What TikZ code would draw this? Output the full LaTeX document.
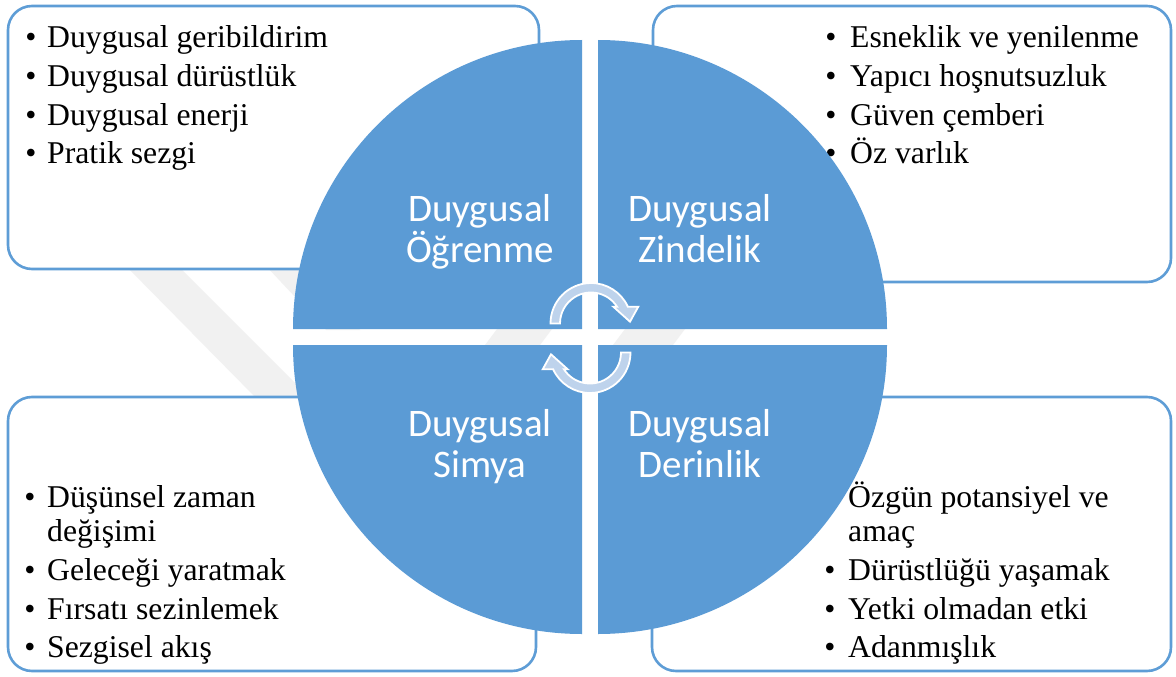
\documentclass[tikz,border=0pt]{standalone}
\usepackage{fontspec}
\setmainfont{Liberation Serif}
\newfontfamily\timesf{Liberation Serif}
\newfontfamily\calib{Carlito}
\definecolor{quadblue}{HTML}{5B9BD5}
\definecolor{boxblue}{HTML}{5E9DD6}
\definecolor{arrowblue}{HTML}{BED3EC}
\definecolor{wmgray}{HTML}{F1F1F1}
\tikzset{
  cyclearrow/.pic={
    \path[carrow] (-40.5,0) arc[start angle=180,end angle=24.5,radius=40.5]
      -- (47.3,16.8) -- (39,1.8) -- (22.3,16.8) -- (26.05,16.8)
      arc[start angle=32.8,end angle=180,radius=31] -- cycle;
  }
}
\begin{document}
\begin{tikzpicture}[x=1pt,y=1pt,
  box/.style={draw=boxblue, line width=2.6pt, fill=white, rounded corners=24pt},
  quad/.style={fill=quadblue},
  item/.style={anchor=base west, inner sep=0pt, font=\timesf\fontsize{31.7}{38}\selectfont},
  bul/.style={anchor=base, inner sep=0pt, font=\timesf\fontsize{31.7}{38}\selectfont},
  qlabel/.style={anchor=base, inner sep=0pt, text=white, font=\calib\fontsize{39}{41}\selectfont},
  wm/.style={fill=wmgray},
  carrow/.style={fill=arrowblue, draw=white, line width=1.8pt, line join=miter}
]
\useasboundingbox (0,0) rectangle (1176,-677);
\fill[white] (0,0) rectangle (1176,-677);

% faint watermark pieces
\fill[wm] (126,-266) -- (178,-266) -- (312,-400) -- (258,-400) -- cycle;
\fill[wm] (266,-266) -- (300,-266) -- (360,-330) -- (326,-330) -- cycle;
\fill[wm] (497,-329) -- (552,-329) -- (540,-345) -- (485,-345) -- cycle;
\fill[wm] (625,-329) -- (685,-329) -- (673,-345) -- (613,-345) -- cycle;

% text boxes
\draw[box] (8,-6) rectangle (539,-269);
\draw[box] (653,-6) rectangle (1171,-282);
\draw[box] (8,-397) rectangle (536,-671);
\draw[box] (652,-397) rectangle (1171,-671);

% top-left list
\foreach \t [count=\i] in {Duygusal geribildirim, Duygusal dürüstlük, Duygusal enerji, Pratik sezgi}{
  \pgfmathsetmacro{\yy}{-48-38.5*(\i-1)}
  \node[bul] (tlb\i) at (31,\yy) {\textbullet};
  \node[item] (tl\i) at (47,\yy) {\t};
}
% top-right list
\foreach \t [count=\i] in {Esneklik ve yenilenme, Yapıcı hoşnutsuzluk, Güven çemberi, Öz varlık}{
  \pgfmathsetmacro{\yy}{-48-38.5*(\i-1)}
  \node[bul] (trb\i) at (831,\yy) {\textbullet};
  \node[item] (tr\i) at (850,\yy) {\t};
}
% bottom-left list
\node[bul] (blb1) at (30,-507.5) {\textbullet};
\node[item] (bl1) at (47,-507.5) {Düşünsel zaman};
\node[item] (bl1b) at (47,-541) {değişimi};
\node[bul] (blb2) at (30,-580.5) {\textbullet};
\node[item] (bl2) at (47,-580.5) {Geleceği yaratmak};
\node[bul] (blb3) at (30,-619) {\textbullet};
\node[item] (bl3) at (47,-619) {Fırsatı sezinlemek};
\node[bul] (blb4) at (30,-657.5) {\textbullet};
\node[item] (bl4) at (47,-657.5) {Sezgisel akış};
% bottom-right list
\node[bul] (brb1) at (830,-507.5) {\textbullet};
\node[item] (br1) at (848,-507.5) {Özgün potansiyel ve};
\node[item] (br1b) at (848,-541) {amaç};
\node[bul] (brb2) at (830,-580.5) {\textbullet};
\node[item] (br2) at (848,-580.5) {Dürüstlüğü yaşamak};
\node[bul] (brb3) at (830,-619) {\textbullet};
\node[item] (br3) at (848,-619) {Yetki olmadan etki};
\node[bul] (brb4) at (830,-657.5) {\textbullet};
\node[item] (br4) at (848,-657.5) {Adanmışlık};

% circle quadrants
\fill[quad] (582,-329) -- ++(-289,0) arc[start angle=180,end angle=90,radius=289] -- cycle;
\fill[quad] (598,-329) -- ++(0,289) arc[start angle=90,end angle=0,radius=289] -- cycle;
\fill[quad] (582,-345) -- ++(0,-289) arc[start angle=270,end angle=180,radius=289] -- cycle;
\fill[quad] (598,-345) -- ++(289,0) arc[start angle=0,end angle=-90,radius=289] -- cycle;

% quadrant labels
\node[qlabel] (q1a) at (480,-221) {Duygusal};
\node[qlabel] (q1b) at (480,-262) {Öğrenme};
\node[qlabel] (q2a) at (700,-221) {Duygusal};
\node[qlabel] (q2b) at (700,-262) {Zindelik};
\node[qlabel] (q3a) at (480,-436) {Duygusal};
\node[qlabel] (q3b) at (480,-477) {Simya};
\node[qlabel] (q4a) at (700,-436) {Duygusal};
\node[qlabel] (q4b) at (700,-477) {Derinlik};

% cycle arrows
\pic at (591,-323.5) {cyclearrow};
\pic[rotate=180] at (590,-352.5) {cyclearrow};
\end{tikzpicture}
\end{document}
